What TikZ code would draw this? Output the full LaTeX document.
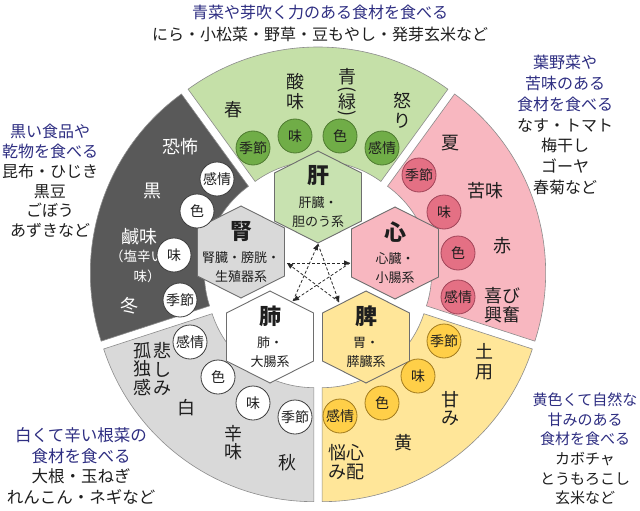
\documentclass[tikz,border=0pt]{standalone}
\usepackage{fontspec}
\setmainfont{Noto Sans CJK JP}
\usetikzlibrary{arrows.meta,calc}

\definecolor{txt}{RGB}{30,30,30}
\definecolor{blu}{RGB}{46,46,130}
\definecolor{grnS}{RGB}{197,224,168}
\definecolor{grnH}{RGB}{200,226,176}
\definecolor{grnC}{RGB}{112,173,71}
\definecolor{grnB}{RGB}{78,122,48}
\definecolor{pnkS}{RGB}{248,183,192}
\definecolor{pnkC}{RGB}{228,112,132}
\definecolor{pnkB}{RGB}{160,68,88}
\definecolor{yelS}{RGB}{255,230,153}
\definecolor{yelC}{RGB}{255,207,72}
\definecolor{yelB}{RGB}{160,122,30}
\definecolor{gryS}{RGB}{217,217,217}
\definecolor{blkS}{RGB}{89,89,89}
\definecolor{edge}{RGB}{140,140,140}
\definecolor{hexB}{RGB}{110,110,110}
\definecolor{arrC}{RGB}{40,40,40}
\definecolor{cirB}{RGB}{60,60,60}

\tikzset{
  sectline/.style={draw=edge, line width=0.6pt},
  hexline/.style={draw=hexB, line width=0.9pt},
  lbl/.style={circle, minimum size=34pt, inner sep=0pt, line width=0.8pt,
    font=\fontsize{14}{14}\selectfont, text=txt},
  grnc/.style={lbl, fill=grnC, draw=grnB},
  pnkc/.style={lbl, fill=pnkC, draw=pnkB},
  yelc/.style={lbl, fill=yelC, draw=yelB},
  whtc/.style={lbl, fill=white, draw=cirB},
  st/.style={font=\fontsize{18}{20}\selectfont, text=txt, align=center, inner sep=0pt},
  stw/.style={st, text=white},
  bigc/.style={font=\fontsize{22}{22}\selectfont\bfseries, text=txt, inner sep=0pt},
  subt/.style={font=\fontsize{13}{19}\selectfont, text=txt, align=center, inner sep=0pt},
  side/.style={font=\fontsize{16}{20.5}\selectfont, text=txt, align=center, inner sep=0pt},
  arr/.style={draw=arrC, line width=0.8pt, dash pattern=on 3pt off 2pt,
    -{Triangle[length=6pt,width=5pt]}},
}

\newcommand{\sect}[2]{%
  \begin{scope}[shift={($(C)+(-#1:7)$)}]
    \path[sectline, fill=#2] (-#1+36:107) -- (-#1+36:221)
      arc[start angle=-#1+36, end angle=-#1-36, radius=221]
      -- (-#1-36:107)
      arc[start angle=-#1-36, end angle=-#1+36, radius=107] -- cycle;
  \end{scope}}

\newcommand{\hexa}[3]{%
  \path[hexline, fill=#3] (#1,#2) ++(0,-46) -- ++(43.5,22) -- ++(0,48)
    -- ++(-43.5,22) -- ++(-43.5,-22) -- ++(0,-48) -- cycle;}

\begin{document}
\begin{tikzpicture}[x=1pt,y=-1pt]
\useasboundingbox (0,0) rectangle (640,511);
\fill[white] (0,0) rectangle (640,511);
\coordinate (C) at (318,275);

% sectors
\sect{90}{grnS}
\sect{18}{pnkS}
\sect{306}{yelS}
\sect{234}{gryS}
\sect{162}{blkS}

% hexagons
\hexa{318}{197}{grnH}
\hexa{395}{253}{pnkS}
\hexa{366}{337}{yelS}
\hexa{270}{337}{white}
\hexa{241}{252}{gryS}

\node[bigc] (kan) at (318,176) {肝};
\node[subt] (kansub) at (318,212) {肝臓・\\胆のう系};
\node[bigc] (shin) at (395,232) {心};
\node[subt] (shinsub) at (395,268) {心臓・\\小腸系};
\node[bigc] (hi) at (366,316) {脾};
\node[subt] (hisub) at (366,352) {胃・\\膵臓系};
\node[bigc] (hai) at (270,316) {肺};
\node[subt] (haisub) at (270,352) {肺・\\大腸系};
\node[bigc] (jin) at (241,231) {腎};
\node[subt] (jinsub) at (241,267) {腎臓・膀胱・\\生殖器系};

% arrows (controlling cycle)
\coordinate (aT) at (318,244);
\coordinate (aL) at (287,263);
\coordinate (aR) at (350,263);
\coordinate (aBL) at (293,301);
\coordinate (aBR) at (339,302);
\draw[arr] (aT) -- (aBR);
\draw[arr] (aBR) -- (aL);
\draw[arr] (aL) -- (aR);
\draw[arr] (aR) -- (aBL);
\draw[arr] (aBL) -- (aT);

% green sector
\node[st] (gharu) at (233,110) {春};
\node[st] (gsan) at (295,92) {酸\\味};
\node[st] (gao) at (347,77) {青};
\node[st, rotate=-90] (gpl) at (347,90) {(};
\node[st] (gmidori) at (347,102) {緑};
\node[st, rotate=-90] (gpr) at (347,114) {)};
\node[st] (gikari) at (402,110) {怒\\り};
\node[grnc] (gk) at (253,148) {季節};
\node[grnc] (ga) at (295,136) {味};
\node[grnc] (gi) at (340,136) {色};
\node[grnc] (gj) at (382,148) {感情};

% pink sector
\node[st] (pnatsu) at (450,143) {夏};
\node[st] (pniga) at (485,191) {苦味};
\node[st] (paka) at (502,246) {赤};
\node[st, font=\fontsize{18}{19}\selectfont] (pyoro) at (502,305) {喜び\\興奮};
\node[pnkc] (pk) at (419,175) {季節};
\node[pnkc] (pa) at (444,212) {味};
\node[pnkc] (pi) at (458,253) {色};
\node[pnkc] (pj) at (458,297) {感情};

% yellow sector
\node[st] (ydoyo) at (484,362) {土\\用};
\node[st, font=\fontsize{18}{18}\selectfont] (yama) at (450,409) {甘\\み};
\node[st] (yki) at (403,443) {黄};
\node[st, font=\fontsize{18}{19}\selectfont] (ynaya) at (337,462) {悩\\み};
\node[st, font=\fontsize{18}{19}\selectfont] (yshin) at (355,462) {心\\配};
\node[yelc] (yk) at (444,341) {季節};
\node[yelc] (ya) at (418,376) {味};
\node[yelc] (yi) at (382,403) {色};
\node[yelc] (yj) at (340,416) {感情};

% light gray sector
\node[st, font=\fontsize{18}{18.5}\selectfont] (wkana) at (162,369) {悲\\し\\み};
\node[st, font=\fontsize{18}{18.5}\selectfont] (wkodoku) at (142,369) {孤\\独\\感};
\node[st] (wshiro) at (186,408) {白};
\node[st, font=\fontsize{18}{18}\selectfont] (wkara) at (233,443) {辛\\味};
\node[st] (waki) at (287,463) {秋};
\node[whtc] (wj) at (190,342) {感情};
\node[whtc] (wi) at (218,377) {色};
\node[whtc] (wa) at (253,403) {味};
\node[whtc] (wk) at (295,417) {季節};

% black sector
\node[stw] (bkyofu) at (180,147) {恐怖};
\node[stw] (bkuro) at (152,191) {黒};
\node[stw] (bkan) at (139,237) {鹹味};
\node[stw, font=\fontsize{13.5}{14}\selectfont] (bshio) at (137,256) {（塩辛い};
\node[stw, font=\fontsize{13.5}{14}\selectfont] (bmi) at (147,276) {味）};
\node[stw] (bfuyu) at (129,306) {冬};
\node[whtc] (bj) at (217,179) {感情};
\node[whtc] (bi) at (197,211) {色};
\node[whtc] (ba) at (174,255) {味};
\node[whtc] (bk) at (180,300) {季節};

% outer texts
\node[side, text=blu] (top1) at (320,12) {青菜や芽吹く力のある食材を食べる};
\node[side] (top2) at (320,34) {にら・小松菜・野草・豆もやし・発芽玄米など};

\node[side, font=\fontsize{16}{20.7}\selectfont] (pfood) at (565,125)
  {{\color{blu}葉野菜や}\\{\color{blu}苦味のある}\\{\color{blu}食材を食べる}\\なす・トマト\\梅干し\\ゴーヤ\\春菊など};
\node[side, font=\fontsize{16}{19.7}\selectfont] (bfood) at (50,181)
  {{\color{blu}黒い食品や}\\{\color{blu}乾物を食べる}\\昆布・ひじき\\黒豆\\ごぼう\\あずきなど};
\node[side, font=\fontsize{16.5}{20.7}\selectfont] (wfood) at (81,466)
  {{\color{blu}白くて辛い根菜の}\\{\color{blu}食材を食べる}\\大根・玉ねぎ\\れんこん・ネギなど};
\node[side, font=\fontsize{15}{19.6}\selectfont] (yfood) at (585,449)
  {{\color{blu}黄色くて自然な}\\{\color{blu}甘みのある}\\{\color{blu}食材を食べる}\\カボチャ\\とうもろこし\\玄米など};
\end{tikzpicture}
\end{document}
